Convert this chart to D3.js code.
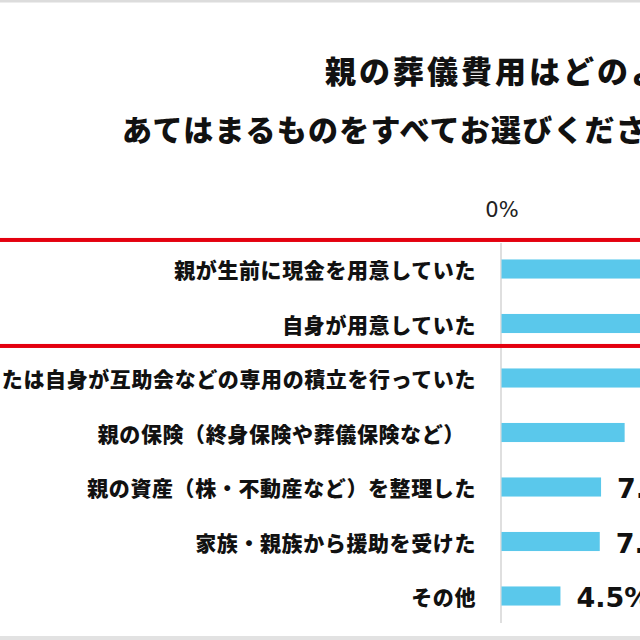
<!DOCTYPE html>
<html>
<head>
<meta charset="utf-8">
<script src="https://cdn.jsdelivr.net/npm/d3@7"></script>
<style>
  html, body { margin: 0; padding: 0; background: #fff; overflow: hidden; }
  svg { display: block; }
</style>
</head>
<body>
<div id="chart"></div>
<script>
// categories (top to bottom) and percentages
const categories = [
  "親が生前に現金を用意していた",
  "自身が用意していた",
  "親または自身が互助会などの専用の積立を行っていた",
  "親の保険（終身保険や葬儀保険など）　",
  "親の資産（株・不動産など）を整理した",
  "家族・親族から援助を受けた",
  "その他"
];
const values = [38.2, 23.5, 12.8, 9.4, 7.6, 7.5, 4.5];
const titleLines = [
  "親の葬儀費用はどのように準備しましたか？",
  "あてはまるものをすべてお選びください（複数回答）"
];
const axisTicks = [0];

const width = 640, height = 640;
const jp = "'Noto Sans CJK JP', 'Noto Sans', sans-serif";
const num = "'DejaVu Sans', Verdana, sans-serif";

const svg = d3.select("#chart")
  .append("svg")
    .attr("width", width)
    .attr("height", height);

// frame lines top / bottom
svg.append("rect").attr("x", 0).attr("y", 0).attr("width", width).attr("height", 2.5).attr("fill", "#dcdcdc");
svg.append("rect").attr("x", 0).attr("y", 636).attr("width", width).attr("height", 4).attr("fill", "#e2e2e2");

// title
svg.append("text")
  .attr("x", 325).attr("y", 83)
  .style("font-family", jp).style("font-weight", 900)
  .style("font-size", "31px").style("letter-spacing", "3px")
  .attr("fill", "#111")
  .text(titleLines[0]);
svg.append("text")
  .attr("x", 122).attr("y", 141)
  .style("font-family", jp).style("font-weight", 900)
  .style("font-size", "30px").style("letter-spacing", "1.2px")
  .attr("fill", "#111")
  .text(titleLines[1]);

const x = d3.scaleLinear()
  .domain([0, 50])
  .range([501.5, 501.5 + 50 * 13.1]);

const y = d3.scaleBand()
  .domain(categories)
  .range([241.75, 623.25])
  .paddingInner(0.65)
  .paddingOuter(0.325);

// top axis (only 0% visible)
const xAxis = d3.axisTop(x).tickValues(axisTicks).tickFormat(d => d + "%").tickSize(0).tickPadding(0);
const ax = svg.append("g").attr("transform", "translate(0,217)").call(xAxis);
ax.select(".domain").remove();
ax.selectAll("text")
  .style("font-family", num).style("font-size", "21px")
  .attr("fill", "#222").attr("dy", 0);

// vertical zero line
svg.append("line")
  .attr("x1", x(0) - 0.5).attr("x2", x(0) - 0.5)
  .attr("y1", 243).attr("y2", 623)
  .attr("stroke", "#d4d4d4").attr("stroke-width", 1.5);

// bars
svg.append("g")
  .selectAll("rect")
  .data(values)
  .join("rect")
    .attr("x", x(0))
    .attr("y", (d, i) => y(categories[i]))
    .attr("width", d => x(d) - x(0))
    .attr("height", y.bandwidth())
    .attr("fill", "#5ac8eb");

// category labels
svg.append("g")
  .selectAll("text")
  .data(categories)
  .join("text")
    .attr("x", 476)
    .attr("y", d => y(d) + y.bandwidth() / 2)
    .attr("text-anchor", "end")
    .attr("dominant-baseline", "central")
    .style("font-family", jp).style("font-weight", 800)
    .style("font-size", "21px").style("letter-spacing", "0.6px")
    .attr("fill", "#111")
    .text(d => d);

// value labels
svg.append("g")
  .selectAll("text")
  .data(values)
  .join("text")
    .attr("x", d => x(d) + 16)
    .attr("y", (d, i) => y(categories[i]) + y.bandwidth() / 2 + 11)
    .style("font-family", num).style("font-weight", 700)
    .style("font-size", "27px")
    .attr("fill", "#111")
    .text(d => d.toFixed(1) + "%");

// red highlight lines around first two rows
const redY = [y(categories[0]) - 19.5, y(categories[2]) - 22.5];
svg.append("g")
  .selectAll("rect")
  .data(redY)
  .join("rect")
    .attr("x", 0).attr("width", width)
    .attr("y", d => d - 2).attr("height", 4)
    .attr("fill", "#e4000f");
</script>
</body>
</html>
